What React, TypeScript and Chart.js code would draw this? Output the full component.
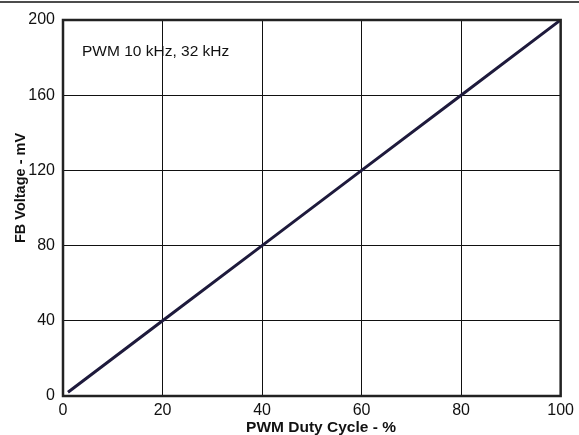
import React, { useEffect, useRef } from "react";
import { Chart, registerables } from "chart.js";

Chart.register(...registerables);

const dutyCycle = [1, 20, 40, 60, 80, 100];
const fbVoltage = [2, 40, 80, 120, 160, 200];
const xTitle = "PWM Duty Cycle - %";
const yTitle = "FB Voltage - mV";
const note = "PWM 10 kHz, 32 kHz";
const FONT = "'Liberation Sans', Arial, sans-serif";

const decorPlugin = {
  id: "decor",
  afterDatasetsDraw(chart: any) {
    const { ctx, chartArea } = chart;
    const { left, right, top, bottom } = chartArea;
    ctx.save();
    // border
    ctx.strokeStyle = "#222";
    ctx.lineWidth = 2.5;
    ctx.strokeRect(left, top, right - left, bottom - top);
    // separator
    ctx.strokeStyle = "#111";
    ctx.lineWidth = 1.5;
    ctx.beginPath();
    ctx.moveTo(0, 2);
    ctx.lineTo(chart.width, 2);
    ctx.stroke();
    // note
    ctx.fillStyle = "#111";
    ctx.font = `15.5px ${FONT}`;
    ctx.textAlign = "left";
    ctx.textBaseline = "middle";
    ctx.fillText(note, 82, 52);
    // x title
    ctx.font = `bold 15.5px ${FONT}`;
    ctx.textAlign = "center";
    ctx.textBaseline = "alphabetic";
    ctx.fillText(xTitle, 321, 432);
    // y title
    ctx.translate(25, 188);
    ctx.rotate(-Math.PI / 2);
    ctx.font = `bold 14.5px ${FONT}`;
    ctx.fillText(yTitle, 0, 0);
    ctx.restore();
  },
};

export default function App() {
  const ref = useRef<HTMLCanvasElement>(null);
  useEffect(() => {
    const chart = new Chart(ref.current!, {
      type: "line",
      data: {
        datasets: [
          {
            data: dutyCycle.map((x, i) => ({ x, y: fbVoltage[i] })),
            borderColor: "#1e1a3c",
            borderWidth: 3,
            pointRadius: 0,
            tension: 0,
          },
        ],
      },
      options: {
        animation: false,
        responsive: false,
        devicePixelRatio: 1,
        layout: { padding: { top: 20, right: 15, left: 0, bottom: 0 } },
        plugins: { legend: { display: false }, tooltip: { enabled: false } },
        scales: {
          x: {
            type: "linear",
            min: 0,
            max: 100,
            afterFit: (s: any) => {
              s.height = 39;
            },
            border: { display: false },
            grid: { color: "#111", lineWidth: 1, drawTicks: false },
            ticks: {
              stepSize: 20,
              padding: 5,
              color: "#111",
              font: { family: FONT, size: 16 },
              maxRotation: 0,
            },
          },
          y: {
            min: 0,
            max: 200,
            afterFit: (s: any) => {
              s.width = 63;
            },
            border: { display: false },
            grid: { color: "#111", lineWidth: 1, drawTicks: false },
            ticks: {
              stepSize: 40,
              padding: 8,
              color: "#111",
              font: { family: FONT, size: 16 },
            },
          },
        },
      },
      plugins: [decorPlugin],
    });
    return () => chart.destroy();
  }, []);
  return (
    <div style={{ position: "fixed", left: 0, top: 0, width: 579, height: 435, background: "#fff" }}>
      <canvas ref={ref} width={579} height={435} />
    </div>
  );
}
